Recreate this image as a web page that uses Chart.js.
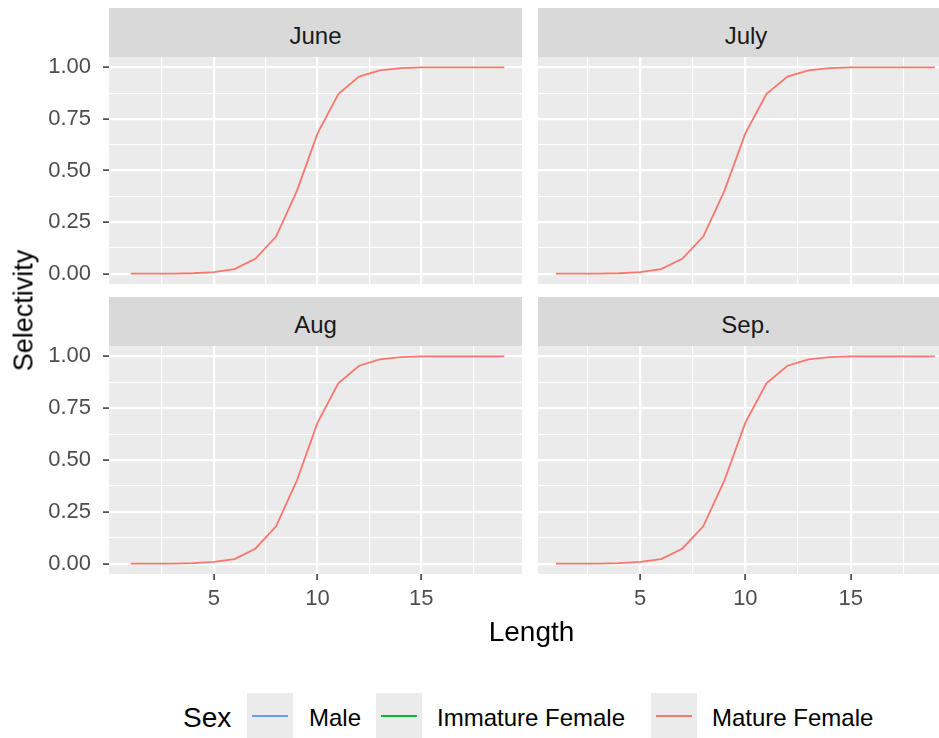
<!DOCTYPE html>
<html>
<head>
<meta charset="utf-8">
<script src="https://cdn.jsdelivr.net/npm/chart.js@4.4.1/dist/chart.umd.min.js"></script>
<style>
body { margin:0; width:939px; height:738px; overflow:hidden; background:#fff; position:relative;
       font-family:'Liberation Sans', Arial, sans-serif; }
canvas { position:absolute; }
.strip { position:absolute; background:#D9D9D9; }
.txt { position:absolute; white-space:nowrap; line-height:1; }
.key { position:absolute; background:#EBEBEB; width:46px; height:46px; top:693px; }
.key span { position:absolute; left:5px; width:36px; height:2px; top:22px; }
</style>
</head>
<body>
<script>
// data
var lengths = [1,2,3,4,5,6,7,8,9,10,11,12,13,14,15,16,17,18,19];
var selJune = [0,0,0,0.002,0.008,0.022,0.072,0.18,0.40,0.68,0.87,0.955,0.985,0.996,1,1,1,1,1];
var selJuly = [0,0,0,0.002,0.008,0.022,0.072,0.18,0.40,0.68,0.87,0.955,0.985,0.996,1,1,1,1,1];
var selAug  = [0,0,0,0.002,0.008,0.022,0.072,0.18,0.40,0.68,0.87,0.955,0.985,0.996,1,1,1,1,1];
var selSep  = [0,0,0,0.002,0.008,0.022,0.072,0.18,0.40,0.68,0.87,0.955,0.985,0.996,1,1,1,1,1];
var months = ['June','July','Aug','Sep.'];
var sexes = ['Male','Immature Female','Mature Female'];
var sexColors = ['#619CFF','#00BA38','#F8766D'];
var xMajor = [5,10,15];
var xTicks = [2.5,5,7.5,10,12.5,15,17.5];
var yMajor = [0,0.25,0.5,0.75,1];
var yTicks = [0,0.125,0.25,0.375,0.5,0.625,0.75,0.875,1];

Chart.defaults.font.family = "'Liberation Sans', Arial, sans-serif";

var panelBg = {
    id: 'panelBg',
    beforeDraw: function(chart){
        var a = chart.chartArea, c = chart.ctx;
        c.save();
        c.fillStyle = '#EBEBEB';
        c.fillRect(a.left, a.top, a.right - a.left, a.bottom - a.top);
        c.restore();
    }
};

var panels = [
    {name:months[0], data:selJune, col:0, row:0},
    {name:months[1], data:selJuly, col:1, row:0},
    {name:months[2], data:selAug,  col:0, row:1},
    {name:months[3], data:selSep,  col:1, row:1}
];
// layout of the facet grid
var colLeft = [0, 538], colAxisW = [109, 0], colRight = [522, 954];
var colMin = [-0.05, 0.15], colMax = [19.85, 19.91];
var rowTop = [57, 346], rowPlotH = [227, 228], rowAxisH = [0, 46];
var stripTop = [8, 297];

function el(cls, css, text){
    var d = document.createElement('div');
    d.className = cls;
    d.style.cssText = css;
    if (text) d.textContent = text;
    document.body.appendChild(d);
    return d;
}

function noPad(s){
    s.paddingTop = 0; s.paddingBottom = 0; s.paddingLeft = 0; s.paddingRight = 0;
}

function makePanel(p){
    var left = colLeft[p.col], w = colRight[p.col] - left;
    var top = rowTop[p.row], h = rowPlotH[p.row] + rowAxisH[p.row];
    var showY = p.col === 0, showX = p.row === 1;

    var plotLeft = left + colAxisW[p.col];
    el('strip', 'left:'+plotLeft+'px;top:'+stripTop[p.row]+'px;width:'+(colRight[p.col]-plotLeft)+'px;height:'+(top-stripTop[p.row])+'px;');
    var mid = (stripTop[p.row] + top) / 2 + 3;
    el('txt', 'left:'+plotLeft+'px;width:'+(colRight[p.col]-plotLeft)+'px;text-align:center;top:'+(mid-11.8)+'px;font-size:24px;color:#1A1A1A;', p.name);

    var cv = document.createElement('canvas');
    cv.width = w; cv.height = h;
    cv.style.left = left + 'px'; cv.style.top = top + 'px';
    document.body.appendChild(cv);

    var pts = [];
    for (var i = 0; i < lengths.length; i++) pts.push({x: lengths[i], y: p.data[i]});

    new Chart(cv, {
        type: 'line',
        data: { datasets: [{
            label: sexes[2],
            data: pts,
            borderColor: sexColors[2],
            borderWidth: 1.8,
            pointRadius: 0,
            tension: 0,
            fill: false
        }]},
        options: {
            responsive: false,
            animation: false,
            devicePixelRatio: 1,
            layout: { padding: 0, autoPadding: false },
            plugins: { legend: {display:false}, tooltip: {enabled:false} },
            scales: {
                x: {
                    type: 'linear',
                    min: colMin[p.col], max: colMax[p.col],
                    afterBuildTicks: function(s){ s.ticks = xTicks.map(function(v){ return {value:v}; }); },
                    afterFit: function(s){ s.height = rowAxisH[p.row]; noPad(s); },
                    border: { display:false },
                    grid: {
                        color: '#FFFFFF',
                        lineWidth: function(c){ return xMajor.indexOf(c.tick.value) >= 0 ? 2.2 : 1.1; },
                        drawTicks: showX,
                        tickLength: 6,
                        tickWidth: 1.5,
                        tickColor: function(c){ return xMajor.indexOf(c.tick.value) >= 0 ? '#333333' : 'rgba(0,0,0,0)'; }
                    },
                    ticks: {
                        display: showX,
                        autoSkip: false,
                        maxRotation: 0,
                        padding: 6,
                        color: '#4D4D4D',
                        font: { size: 22 },
                        callback: function(v){ return xMajor.indexOf(v) >= 0 ? String(v) : ''; }
                    }
                },
                y: {
                    type: 'linear',
                    min: -0.05, max: 1.05,
                    afterBuildTicks: function(s){ s.ticks = yTicks.map(function(v){ return {value:v}; }); },
                    afterFit: function(s){ s.width = colAxisW[p.col]; noPad(s); },
                    border: { display:false },
                    grid: {
                        color: '#FFFFFF',
                        lineWidth: function(c){ return yMajor.indexOf(c.tick.value) >= 0 ? 2.2 : 1.1; },
                        drawTicks: showY,
                        tickLength: 6,
                        tickWidth: 1.5,
                        tickColor: function(c){ return yMajor.indexOf(c.tick.value) >= 0 ? '#333333' : 'rgba(0,0,0,0)'; }
                    },
                    ticks: {
                        display: showY,
                        autoSkip: false,
                        padding: 12,
                        color: '#4D4D4D',
                        font: { size: 22 },
                        callback: function(v){ return yMajor.indexOf(v) >= 0 ? v.toFixed(2) : ''; }
                    }
                }
            }
        },
        plugins: [panelBg]
    });
}

panels.forEach(makePanel);

// axis titles
el('txt', 'left:109px;width:845px;text-align:center;top:618px;font-size:28px;color:#000;', 'Length');
el('txt', 'left:-76px;width:200px;text-align:center;top:297px;font-size:27px;color:#000;transform:rotate(-90deg);', 'Selectivity');

// legend
el('txt', 'left:183px;top:704px;font-size:28px;color:#000;', 'Sex');
var keyLeft = [247, 376, 651], labLeft = [309, 437, 712];
for (var k = 0; k < sexes.length; k++) {
    var box = el('key', 'left:' + keyLeft[k] + 'px;');
    var ln = document.createElement('span');
    ln.style.background = sexColors[k];
    box.appendChild(ln);
    el('txt', 'left:' + labLeft[k] + 'px;top:705.5px;font-size:24px;color:#000;', sexes[k]);
}
</script>
</body>
</html>
